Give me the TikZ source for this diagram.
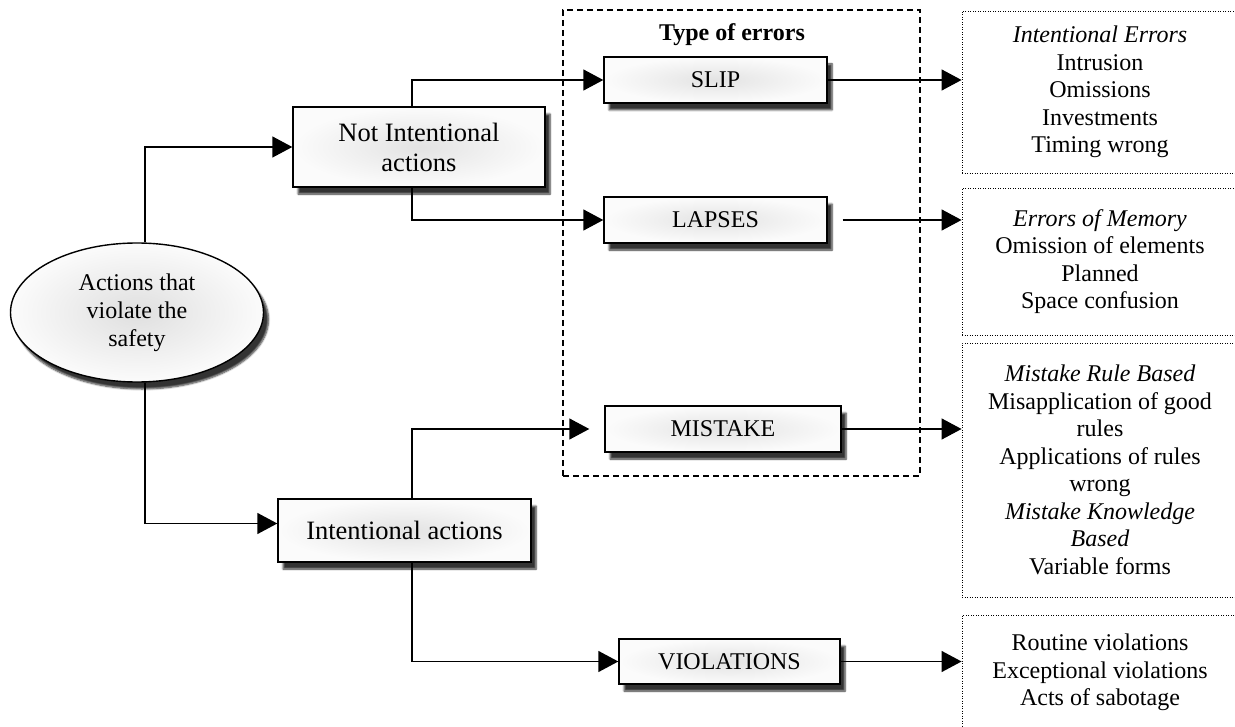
\documentclass[tikz,border=0pt]{standalone}
\usepackage{fontspec}
\setmainfont{Liberation Serif}
\usetikzlibrary{arrows.meta,shapes.geometric,shadows.blur,calc}
\begin{document}
\begin{tikzpicture}[x=1pt,y=-1pt,
  font=\fontsize{24}{28}\selectfont,
  shd/.style={blur shadow={shadow xshift=5pt, shadow yshift=-7pt, shadow opacity=80, shadow blur steps=6}},
  box/.style={draw, line width=1.4pt, rectangle, inner sep=0pt, align=center,
     shading=radial, inner color=gray!22, outer color=gray!3, shd},
  ell/.style={draw, line width=1.4pt, ellipse, inner sep=0pt, align=center,
     shading=radial, inner color=gray!25, outer color=gray!3, shd},
  bigtext/.style={font=\fontsize{26.5}{30}\selectfont},
  grp/.style={draw, line width=1.3pt, dash pattern=on 6pt off 4pt, rectangle, inner sep=0pt},
  rbox/.style={draw, line width=0.9pt, dash pattern=on 1pt off 1.5pt, rectangle, inner sep=0pt,
     align=center, minimum width=276pt, font=\fontsize{24}{27.5}\selectfont},
  arr/.style={-{Triangle[length=20pt,width=21pt]}, line width=1.4pt}
]
\useasboundingbox (0,0) rectangle (1235,727);

% group frame and title
\node[grp, minimum width=357pt, minimum height=466pt] (grp) at (741.5,243) {};
\node[font=\bfseries\fontsize{24}{28}\selectfont] (title) at (732,35) {Type of errors};

% main nodes
\node[ell, minimum width=253pt, minimum height=139pt] (act) at (137,312.5) {Actions that\\violate the\\safety};
\node[box, bigtext, minimum width=252pt, minimum height=80pt] (ni) at (419,147) {Not Intentional\\actions};
\node[box, bigtext, minimum width=253pt, minimum height=63pt] (ia) at (404.5,530.5) {Intentional actions};
\node[box, minimum width=223pt, minimum height=46pt] (slip) at (715.5,80) {SLIP};
\node[box, minimum width=223pt, minimum height=46pt] (lap) at (715.5,220) {LAPSES};
\node[box, minimum width=236pt, minimum height=46pt] (mis) at (723,429) {MISTAKE};
\node[box, minimum width=221pt, minimum height=45pt] (vio) at (729.5,661.5) {VIOLATIONS};

% right description boxes
\node[rbox, minimum height=162pt] (r1) at (1100,92) {\textit{Intentional Errors}\\Intrusion\\Omissions\\Investments\\Timing wrong};
\node[rbox, minimum height=147pt] (r2) at (1100,261.5) {\textit{Errors of Memory}\\Omission of elements\\Planned\\Space confusion};
\node[rbox, minimum height=254pt] (r3) at (1100,470) {\textit{Mistake Rule Based}\\Misapplication of good\\rules\\Applications of rules\\wrong\\\textit{Mistake Knowledge}\\\textit{Based}\\Variable forms};
\node[rbox, minimum height=115pt] (r4) at (1100,672.5) {Routine violations\\Exceptional violations\\Acts of sabotage};

% connectors
\draw[arr] ([xshift=8pt]act.north) |- (ni.west);
\draw[arr] ([xshift=8pt]act.south) |- ([yshift=7pt]ia.west);
\draw[arr] ([xshift=-7pt]ni.north) |- (slip.west);
\draw[arr] ([xshift=-7pt]ni.south) |- (lap.west);
\draw[arr] ([xshift=7.5pt]ia.north) |- ([xshift=-15pt]mis.west);
\draw[arr] ([xshift=7.5pt]ia.south) |- (vio.west);
\draw[arr] (slip.east) -- (slip.east -| r1.west);
\draw[arr] ([xshift=15pt]lap.east) -- (lap.east -| r2.west);
\draw[arr] (mis.east) -- (mis.east -| r3.west);
\draw[arr] (vio.east) -- (vio.east -| r4.west);
\end{tikzpicture}
\end{document}
